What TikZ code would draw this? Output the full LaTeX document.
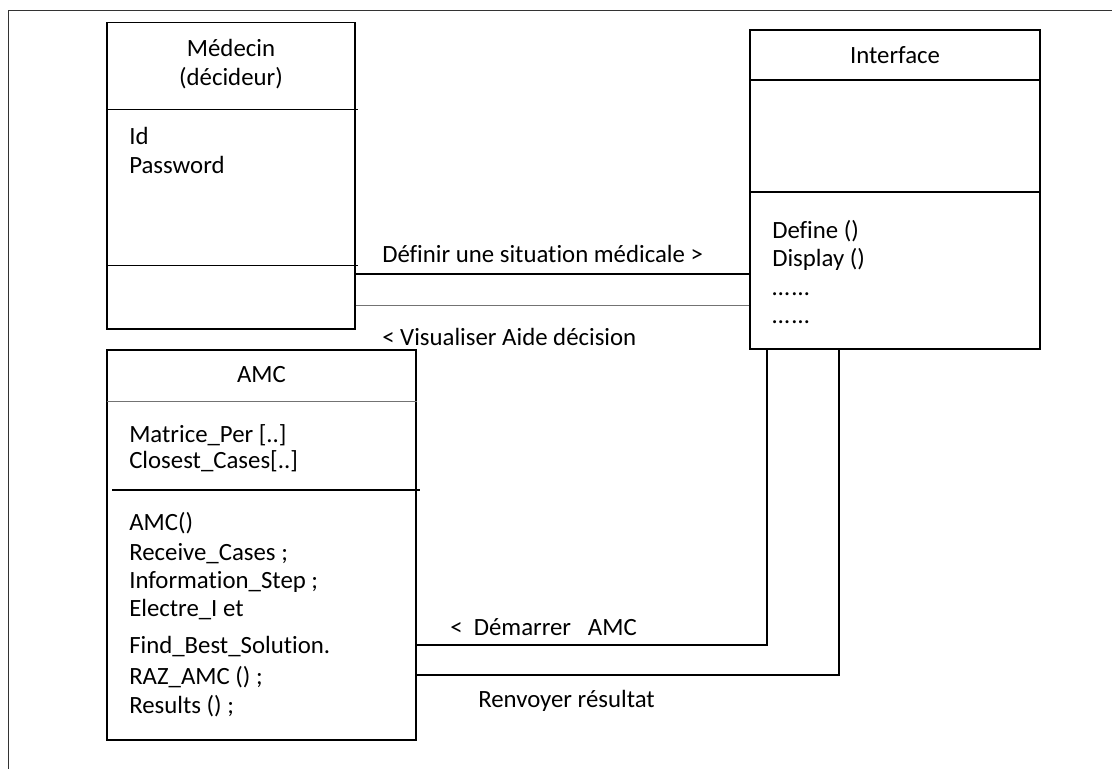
\documentclass[tikz,border=0pt]{standalone}
\usepackage{fontspec}
\setmainfont{Carlito}[Ligatures=NoCommon]
\usetikzlibrary{fit}
\newcommand\umlfont{\fontsize{18.6pt}{21.75pt}\selectfont}
\tikzset{
  box/.style={draw, line width=1pt, inner sep=0pt},
  divider/.style={line width=1pt},
  thindiv/.style={line width=0.6pt, draw=black!55},
  conn/.style={line width=1pt},
  connthin/.style={line width=0.6pt, draw=black!55},
  frame/.style={line width=0.9pt, draw=black!80},
  txt/.style={anchor=base west, inner sep=0pt, font=\umlfont},
  ctxt/.style={anchor=base, inner sep=0pt, font=\umlfont},
}
\begin{document}
\begin{tikzpicture}[x=0.75pt,y=-0.75pt]
\useasboundingbox (0,0) rectangle (1112,769);
\fill[white] (0,0) rectangle (1112,769);
% outer frame (top and left only)
\draw[frame] (1112,10.5) -- (8.5,10.5) -- (8.5,769);

% Medecin class
\node[box, fit={(107,22.5)(355,329)}] (med) {};
\draw[divider] (107,109.5) -- (358,109.5);
\draw[divider] (107,265.5) -- (358,265.5);
\node[ctxt] (medt1) at (231,56) {Médecin};
\node[ctxt] (medt2) at (231,85) {(décideur)};
\node[txt] (meda1) at (129,144) {Id};
\node[txt] (meda2) at (129,173) {Password};

% Interface class
\node[box, fit={(750,30)(1040,349)}] (intf) {};
\draw[divider] (750,80) -- (1040,80);
\draw[divider] (750,192) -- (1040,192);
\node[ctxt] (intt) at (895,63) {Interface};
\node[txt] (intm1) at (772,238) {Define ()};
\node[txt] (intm2) at (772,266) {Display ()};
\node[txt] (intm3) at (772,295) {…\kern2pt…};
\node[txt] (intm4) at (772,323) {…\kern2pt…};

% AMC class
\node[box, fit={(107,350)(416,740)}] (amc) {};
\draw[thindiv] (107,401) -- (417,401);
\draw[divider] (112,490) -- (420,490);
\node[ctxt] (amct) at (261.5,382) {AMC};
\node[txt] (amca1) at (129,442) {Matrice\_Per [..]};
\node[txt] (amca2) at (129,468) {Closest\_Cases[..]};
\node[txt] (amcm1) at (129,530) {AMC()};
\node[txt] (amcm2) at (129,560) {Receive\_Cases ;};
\node[txt] (amcm3) at (129,588) {Information\_Step ;};
\node[txt] (amcm4) at (129,616) {Electre\_I et};
\node[txt] (amcm5) at (129,653) {Find\_Best\_Solution.};
\node[txt] (amcm6) at (129,684) {RAZ\_AMC () ;};
\node[txt] (amcm7) at (129,713) {Results () ;};

% connectors
\draw[conn] (med.east |- 0,274) -- (intf.west |- 0,274);
\draw[connthin] (med.east |- 0,305.5) -- (intf.west |- 0,305.5);
\draw[conn] (intf.south -| 767,0) |- (amc.east |- 0,645);
\draw[conn] (intf.south -| 839,0) |- (amc.east |- 0,675);

% connector labels
\node[txt] (l1) at (382,262) {Définir une situation médicale >};
\node[txt] (l2) at (382,345) {< Visualiser Aide décision};
\node[txt] (l3) at (450,635) {<\ \ Démarrer\ \ \ AMC};
\node[txt] (l4) at (478,707) {Renvoyer résultat};
\end{tikzpicture}
\end{document}
